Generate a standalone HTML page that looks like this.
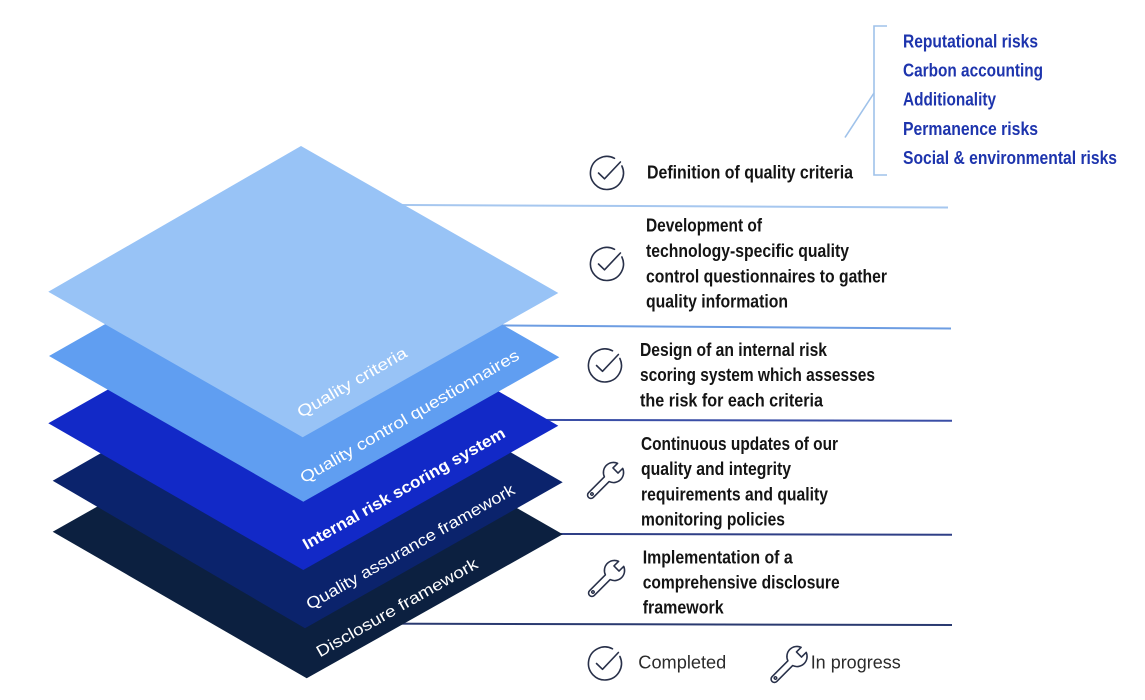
<!DOCTYPE html>
<html><head><meta charset="utf-8"><style>
html,body{margin:0;padding:0;background:#fff;}
svg{display:block;}
.b{font-family:"Liberation Sans Narrow","Liberation Sans",sans-serif;font-weight:700;font-size:18.5px;fill:#141414;}
.bl{font-family:"Liberation Sans Narrow","Liberation Sans",sans-serif;font-weight:700;font-size:18.5px;fill:#1d34ad;}
.lay{font-family:"Liberation Sans",sans-serif;font-size:16px;fill:#ffffff;}
.leg{font-family:"Liberation Sans",sans-serif;font-size:18px;fill:#2b2b2b;}
.ic{fill:none;stroke:#283049;stroke-width:1.6;stroke-linecap:round;stroke-linejoin:round;}
</style></head><body>
<svg width="1145" height="700" viewBox="0 0 1145 700" xmlns="http://www.w3.org/2000/svg">
<defs>
<g id="chk">
<path d="M14.9 -7 A16.5 16.5 0 1 1 7.5 -14.7" class="ic"/>
<path d="M-8.5 0 L-2.5 5.8 L13.4 -11" class="ic"/>
</g>
<g id="wr">
<g transform="rotate(45) scale(1.12)">
<path d="M-3 -3.5 A9 9 0 0 1 -3.2 -20.4 L-3.2 -14.5 L3.2 -14.5 L3.2 -20.4 A9 9 0 0 1 3 -3.5 L3 16.5 A3 3 0 0 1 -3 16.5 Z" fill="none" stroke="#283049" stroke-width="1.4" stroke-linejoin="round"/>
<circle cx="0" cy="15.2" r="1.1" fill="none" stroke="#283049" stroke-width="1.3"/>
</g>
</g>
</defs>

<!-- separator lines -->
<line x1="300" y1="204.5" x2="948" y2="207.5" stroke="#a6c7ef" stroke-width="2"/>
<line x1="300" y1="324" x2="951" y2="328.5" stroke="#6d9de2" stroke-width="2"/>
<line x1="300" y1="419.5" x2="952" y2="420.7" stroke="#3a4ea6" stroke-width="2"/>
<line x1="300" y1="533.5" x2="952" y2="534.7" stroke="#2f3f86" stroke-width="2"/>
<line x1="300" y1="623.5" x2="952" y2="625" stroke="#2a3a70" stroke-width="2"/>

<!-- layers -->
<polygon points="307.7,388 562.7,534.3 306.7,678.3 52.7,531.7" fill="#0c2040"/>
<polygon points="307.7,335 562.7,482.3 305,628.3 52.7,480.7" fill="#0b236c"/>
<polygon points="303,279 558.3,425.7 303.3,570 48.3,423.3" fill="#1229c7"/>
<polygon points="304,211 559.3,357.3 303.3,501.7 49,356" fill="#609ef1"/>
<polygon points="301,146 558.3,293 302.7,437.3 48.3,291.7" fill="#98c3f6"/>

<!-- layer labels -->
<text class="lay" transform="translate(301,418) rotate(-30)" textLength="124" lengthAdjust="spacingAndGlyphs">Quality criteria</text>
<text class="lay" transform="translate(304,483.5) rotate(-30)" textLength="250" lengthAdjust="spacingAndGlyphs">Quality control questionnaires</text>
<text class="lay" font-weight="700" transform="translate(306.5,550) rotate(-29.6)" textLength="230" lengthAdjust="spacingAndGlyphs">Internal risk scoring system</text>
<text class="lay" transform="translate(310,610) rotate(-29.6)" textLength="237" lengthAdjust="spacingAndGlyphs">Quality assurance framework</text>
<text class="lay" transform="translate(320,657.5) rotate(-29.6)" textLength="183" lengthAdjust="spacingAndGlyphs">Disclosure framework</text>

<!-- bracket -->
<path d="M887 26 L874 26 L874 175 L887 175" fill="none" stroke="#9fc2ea" stroke-width="1.6"/>
<line x1="874" y1="93" x2="845" y2="137.5" stroke="#9fc2ea" stroke-width="1.6"/>

<!-- top-right list -->
<text class="bl" x="903" y="47.3" textLength="135" lengthAdjust="spacingAndGlyphs">Reputational risks</text>
<text class="bl" x="903" y="76.5" textLength="140" lengthAdjust="spacingAndGlyphs">Carbon accounting</text>
<text class="bl" x="903" y="105.7" textLength="93" lengthAdjust="spacingAndGlyphs">Additionality</text>
<text class="bl" x="903" y="134.9" textLength="135" lengthAdjust="spacingAndGlyphs">Permanence risks</text>
<text class="bl" x="903" y="164" textLength="214" lengthAdjust="spacingAndGlyphs">Social &amp; environmental risks</text>

<!-- block 1 -->
<use href="#chk" x="607" y="173"/>
<text class="b" x="647" y="178.3" textLength="206" lengthAdjust="spacingAndGlyphs">Definition of quality criteria</text>

<!-- block 2 -->
<use href="#chk" x="607" y="264"/>
<text class="b" x="646" y="231.7" textLength="116" lengthAdjust="spacingAndGlyphs">Development of</text>
<text class="b" x="646" y="257" textLength="203" lengthAdjust="spacingAndGlyphs">technology-specific quality</text>
<text class="b" x="646" y="282.3" textLength="241" lengthAdjust="spacingAndGlyphs">control questionnaires to gather</text>
<text class="b" x="646" y="307.5" textLength="142" lengthAdjust="spacingAndGlyphs">quality information</text>

<!-- block 3 -->
<use href="#chk" x="605" y="365.5"/>
<text class="b" x="640" y="356" textLength="187" lengthAdjust="spacingAndGlyphs">Design of an internal risk</text>
<text class="b" x="640" y="381.2" textLength="235" lengthAdjust="spacingAndGlyphs">scoring system which assesses</text>
<text class="b" x="640" y="406.4" textLength="183" lengthAdjust="spacingAndGlyphs">the risk for each criteria</text>

<!-- block 4 -->
<use href="#wr" x="604" y="482"/>
<text class="b" x="641" y="449.8" textLength="197" lengthAdjust="spacingAndGlyphs">Continuous updates of our</text>
<text class="b" x="641" y="475" textLength="150" lengthAdjust="spacingAndGlyphs">quality and integrity</text>
<text class="b" x="641" y="500.3" textLength="187" lengthAdjust="spacingAndGlyphs">requirements and quality</text>
<text class="b" x="641" y="525.5" textLength="144" lengthAdjust="spacingAndGlyphs">monitoring policies</text>

<!-- block 5 -->
<use href="#wr" x="605" y="580"/>
<text class="b" x="642.7" y="563.5" textLength="150" lengthAdjust="spacingAndGlyphs">Implementation of a</text>
<text class="b" x="642.7" y="588.7" textLength="197" lengthAdjust="spacingAndGlyphs">comprehensive disclosure</text>
<text class="b" x="642.7" y="613.5" textLength="81" lengthAdjust="spacingAndGlyphs">framework</text>

<!-- legend -->
<use href="#chk" x="605" y="663.5"/>
<text class="leg" x="638.3" y="668.5" textLength="88" lengthAdjust="spacingAndGlyphs">Completed</text>
<use href="#wr" x="787.5" y="666"/>
<text class="leg" x="810.7" y="668.5" textLength="90" lengthAdjust="spacingAndGlyphs">In progress</text>
</svg>
</body></html>
